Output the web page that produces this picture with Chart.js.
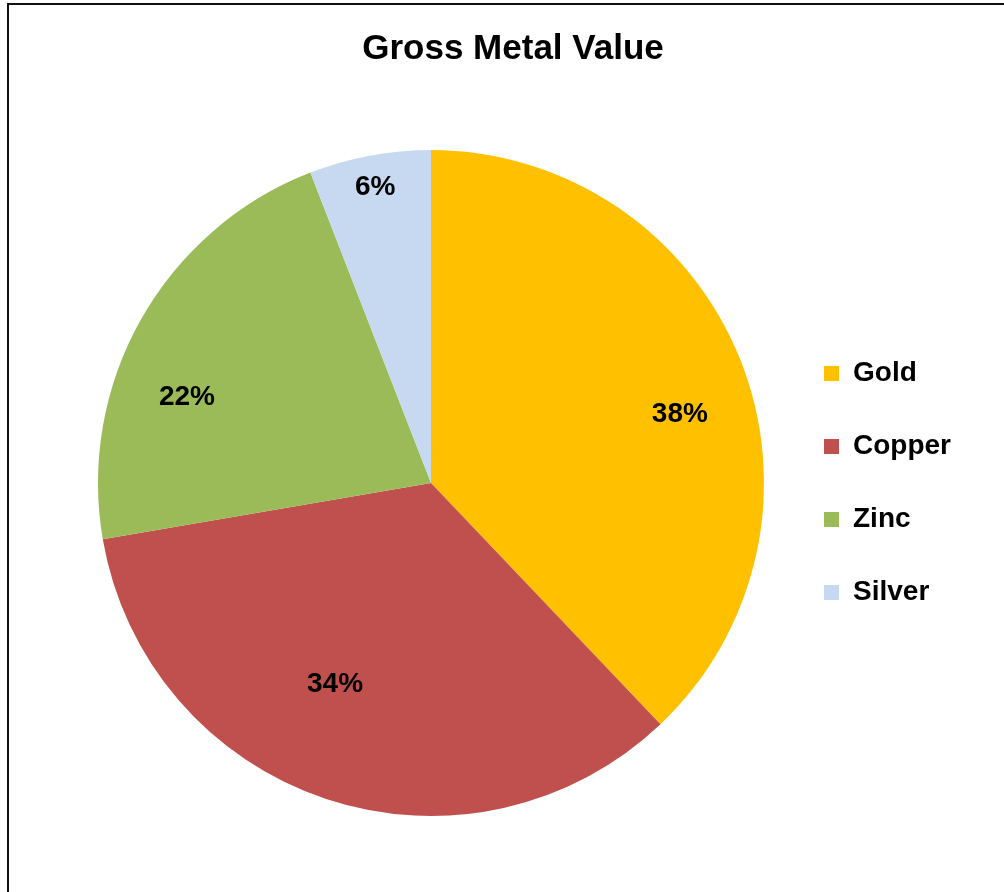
<!DOCTYPE html>
<html>
<head>
<meta charset="utf-8">
<title>Gross Metal Value</title>
<script src="https://cdn.jsdelivr.net/npm/chart.js@4.4.1/dist/chart.umd.min.js"></script>
<style>
  html, body { margin: 0; padding: 0; background: #fff; overflow: hidden; }
  #wrap { position: relative; width: 1004px; height: 892px; }
  #frame {
    position: absolute; left: 7px; top: 3px; width: 1100px; height: 1000px;
    border-left: 2px solid #111; border-top: 2px solid #111;
    pointer-events: none;
  }
  #title {
    position: absolute; left: 213px; top: 27px; width: 600px;
    text-align: center; font: bold 35px/40px "Liberation Sans", Arial, sans-serif;
    color: #000;
  }
</style>
</head>
<body>
<div id="wrap">
  <canvas id="chart" width="1004" height="892"></canvas>
  <div id="title">Gross Metal Value</div>
  <div id="frame"></div>
</div>
<script>
// chart data
const metals = ["Gold", "Copper", "Zinc", "Silver"];
const shares = [37.9, 34.4, 21.8, 5.9]; // % of gross metal value

const sliceColors = ["#FFC000", "#C0504D", "#9BBB59", "#C6D9F1"];
const fontFamily = '"Liberation Sans", Arial, sans-serif';

// draws the % labels inside each slice (Excel "best fit" style placement)
const sliceLabels = {
  id: "sliceLabels",
  afterDatasetsDraw(chart, args, opts) {
    const ctx = chart.ctx;
    const meta = chart.getDatasetMeta(0);
    const values = chart.data.datasets[0].data;
    const total = values.reduce((a, b) => a + b, 0);
    ctx.save();
    ctx.font = "bold 28px " + fontFamily;
    ctx.fillStyle = "#000";
    ctx.textAlign = "center";
    ctx.textBaseline = "middle";
    meta.data.forEach((arc, i) => {
      const p = arc.getProps(["x", "y", "startAngle", "endAngle", "outerRadius"], true);
      const shift = (opts.angleShift[i] || 0) * Math.PI / 180;
      const mid = (p.startAngle + p.endAngle) / 2 + shift;
      const r = p.outerRadius * opts.radius[i];
      const pct = Math.round(values[i] / total * 100) + "%";
      ctx.fillText(pct, p.x + Math.cos(mid) * r, p.y + Math.sin(mid) * r + 2);
    });
    ctx.restore();
  }
};

new Chart(document.getElementById("chart").getContext("2d"), {
  type: "pie",
  data: {
    labels: metals,
    datasets: [
      {
        data: shares,
        backgroundColor: sliceColors,
        borderWidth: 0,
        hoverOffset: 0,
      },
    ],
  },
  options: {
    responsive: false,
    animation: false,
    layout: {
      padding: { top: 150, left: 83, right: 43, bottom: 76 },
    },
    plugins: {
      title: { display: false },
      legend: {
        position: "right",
        fullSize: false,
        labels: {
          color: "#000",
          font: { family: fontFamily, size: 28, weight: "bold" },
          boxWidth: 15,
          boxHeight: 15,
          padding: 45,
        },
      },
      tooltip: { enabled: false },
      sliceLabels: {
        radius: [0.777, 0.663, 0.779, 0.91],
        angleShift: [5.9, 7.4, -9.7, 0],
      },
    },
  },
  plugins: [sliceLabels],
});
</script>
</body>
</html>
